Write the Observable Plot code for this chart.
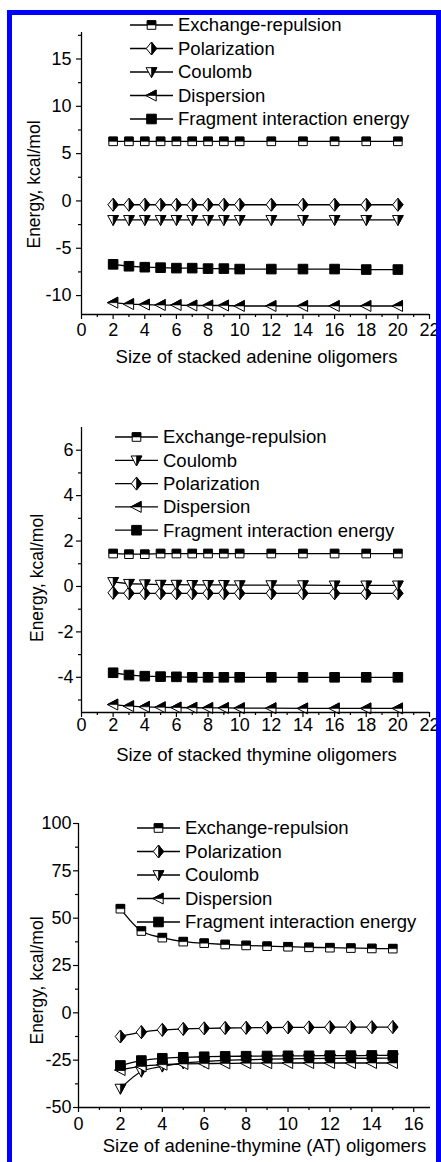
<!DOCTYPE html>
<html><head><meta charset="utf-8">
<script src="https://cdn.jsdelivr.net/npm/d3@7"></script>
<script src="https://cdn.jsdelivr.net/npm/@observablehq/plot@0.6"></script>
<style>
html,body{margin:0;padding:0;width:441px;height:1162px;overflow:hidden;background:#fff;}
#wrap{position:relative;width:441px;height:1162px;overflow:hidden;}
.panel{position:absolute;left:0;}
#border{position:absolute;left:7px;top:10px;width:434px;height:1200px;border:5px solid #0000fe;box-sizing:border-box;pointer-events:none;z-index:5;}
</style></head><body>
<div id="wrap"><div id="border"></div></div>
<script>
const FONT = "'Liberation Sans', Arial, Helvetica, sans-serif";

// ---------- Data ----------
const seriesNames = ["Exchange-repulsion", "Polarization", "Coulomb", "Dispersion", "Fragment interaction energy"];
const legendOrderA = ["Exchange-repulsion", "Polarization", "Coulomb", "Dispersion", "Fragment interaction energy"];
const legendOrderT = ["Exchange-repulsion", "Coulomb", "Polarization", "Dispersion", "Fragment interaction energy"];

// Panel 1: stacked adenine
const adenineSizes = [2, 3, 4, 5, 6, 7, 8, 9, 10, 12, 14, 16, 18, 20];
const adenineExchange = [6.3, 6.3, 6.3, 6.3, 6.3, 6.3, 6.3, 6.3, 6.3, 6.3, 6.3, 6.3, 6.3, 6.3];
const adeninePolarization = [-0.4, -0.4, -0.4, -0.4, -0.4, -0.4, -0.4, -0.4, -0.4, -0.4, -0.4, -0.4, -0.4, -0.4];
const adenineCoulomb = [-2.0, -2.0, -2.0, -2.0, -2.0, -2.0, -2.0, -2.0, -2.0, -2.0, -2.0, -2.0, -2.0, -2.0];
const adenineDispersion = [-10.75, -10.9, -10.95, -11.0, -11.0, -11.05, -11.05, -11.05, -11.1, -11.1, -11.1, -11.1, -11.1, -11.1];
const adenineFragment = [-6.7, -6.9, -7.0, -7.05, -7.1, -7.1, -7.15, -7.15, -7.2, -7.2, -7.2, -7.2, -7.25, -7.25];

// Panel 2: stacked thymine
const thymineSizes = [2, 3, 4, 5, 6, 7, 8, 9, 10, 12, 14, 16, 18, 20];
const thymineExchange = [1.45, 1.42, 1.42, 1.45, 1.45, 1.45, 1.45, 1.45, 1.45, 1.45, 1.45, 1.45, 1.45, 1.45];
const thymineCoulomb = [0.2, 0.12, 0.1, 0.08, 0.08, 0.07, 0.07, 0.07, 0.06, 0.06, 0.06, 0.05, 0.05, 0.05];
const thyminePolarization = [-0.28, -0.3, -0.3, -0.3, -0.3, -0.3, -0.3, -0.3, -0.3, -0.3, -0.3, -0.3, -0.3, -0.3];
const thymineDispersion = [-5.2, -5.27, -5.3, -5.32, -5.33, -5.34, -5.35, -5.35, -5.36, -5.36, -5.37, -5.37, -5.37, -5.37];
const thymineFragment = [-3.8, -3.9, -3.95, -3.97, -3.98, -4.0, -4.0, -4.0, -4.0, -4.0, -4.0, -4.0, -4.0, -4.0];

// Panel 3: adenine-thymine (AT)
const atSizes = [2, 3, 4, 5, 6, 7, 8, 9, 10, 11, 12, 13, 14, 15];
const atExchange = [55.0, 43.2, 39.7, 37.6, 36.8, 36.1, 35.6, 35.2, 34.9, 34.6, 34.4, 34.2, 34.0, 33.9];
const atPolarization = [-12.5, -10.2, -9.0, -8.5, -8.2, -8.0, -7.9, -7.8, -7.7, -7.7, -7.6, -7.6, -7.6, -7.5];
const atCoulomb = [-40.0, -31.0, -28.3, -26.6, -25.7, -25.1, -24.8, -24.5, -24.3, -24.2, -24.1, -24.0, -24.0, -23.9];
const atDispersion = [-30.2, -28.3, -27.4, -27.0, -26.8, -26.7, -26.6, -26.6, -26.5, -26.5, -26.5, -26.5, -26.5, -26.5];
const atFragment = [-27.8, -25.2, -24.0, -23.5, -23.2, -23.0, -22.9, -22.8, -22.7, -22.7, -22.6, -22.6, -22.5, -22.5];

// Tick labels
const xTicksStacked = [0, 2, 4, 6, 8, 10, 12, 14, 16, 18, 20, 22];
const xMinorStacked = [1, 3, 5, 7, 9, 11, 13, 15, 17, 19, 21];
const yTicksAdenine = [-10, -5, 0, 5, 10, 15];
const yMinorAdenine = [-7.5, -2.5, 2.5, 7.5, 12.5, 17.5];
const yTicksThymine = [-4, -2, 0, 2, 4, 6];
const yMinorThymine = [-5, -3, -1, 1, 3, 5];
const xTicksAT = [0, 2, 4, 6, 8, 10, 12, 14, 16];
const xMinorAT = [1, 3, 5, 7, 9, 11, 13, 15];
const yTicksAT = [-50, -25, 0, 25, 50, 75, 100];
const yMinorAT = [-37.5, -12.5, 12.5, 37.5, 62.5, 87.5];

// ---------- Symbols (Origin-style half-filled markers) ----------
const rr = (size) => Math.sqrt(size / Math.PI);
const symSquare = {draw(c, s) { const r = rr(s); c.moveTo(-r, -r); c.lineTo(r, -r); c.lineTo(r, r); c.lineTo(-r, r); c.closePath(); }};
const symSquareTop = {draw(c, s) { const r = rr(s); c.moveTo(-r, -r); c.lineTo(r, -r); c.lineTo(r, 0); c.lineTo(-r, 0); c.closePath(); }};
const symDiamond = {draw(c, s) { const r = rr(s), h = r * 1.25; c.moveTo(0, -h); c.lineTo(r, 0); c.lineTo(0, h); c.lineTo(-r, 0); c.closePath(); }};
const symDiamondRight = {draw(c, s) { const r = rr(s), h = r * 1.25; c.moveTo(0, -h); c.lineTo(r, 0); c.lineTo(0, h); c.closePath(); }};
const symTriDown = {draw(c, s) { const r = rr(s); c.moveTo(-r, -0.8 * r); c.lineTo(r, -0.8 * r); c.lineTo(0, 1.05 * r); c.closePath(); }};
const symTriDownRight = {draw(c, s) { const r = rr(s); c.moveTo(0, -0.8 * r); c.lineTo(r, -0.8 * r); c.lineTo(0, 1.05 * r); c.closePath(); }};
const symTriLeft = {draw(c, s) { const r = rr(s); c.moveTo(-1.05 * r, 0); c.lineTo(0.85 * r, -r); c.lineTo(0.85 * r, r); c.closePath(); }};
const symTriLeftTop = {draw(c, s) { const r = rr(s); c.moveTo(-1.05 * r, 0); c.lineTo(0.85 * r, -r); c.lineTo(0.85 * r, 0); c.closePath(); }};

const markerStyle = {
  "Exchange-repulsion": {full: symSquare, fill: "white", half: symSquareTop, r: 4.3},
  "Polarization": {full: symDiamond, fill: "white", half: symDiamondRight, r: 5.2},
  "Coulomb": {full: symTriDown, fill: "white", half: symTriDownRight, r: 5.4},
  "Dispersion": {full: symTriLeft, fill: "white", half: symTriLeftTop, r: 5.5},
  "Fragment interaction energy": {full: symSquare, fill: "black", half: null, r: 4.8}
};

function tidy(sizes, seriesMap) {
  const rows = [];
  for (const [name, vals] of Object.entries(seriesMap)) {
    sizes.forEach((s, i) => rows.push({series: name, size: s, energy: vals[i]}));
  }
  return rows;
}

function makePanel(cfg) {
  const marks = [];
  marks.push(Plot.line(cfg.rows, {x: "size", y: "energy", z: "series", stroke: "black", strokeWidth: 1.3, curve: cfg.curve || "linear"}));
  for (const name of seriesNames) {
    const st = markerStyle[name];
    const sub = cfg.rows.filter(d => d.series === name);
    marks.push(Plot.dot(sub, {x: "size", y: "energy", symbol: st.full, r: st.r, fill: st.fill, stroke: "black", strokeWidth: 1}));
    if (st.half) marks.push(Plot.dot(sub, {x: "size", y: "energy", symbol: st.half, r: st.r, fill: "black", stroke: "black", strokeWidth: 0.6}));
  }
  marks.push(
    Plot.ruleX([cfg.xDomain[0]], {stroke: "black", strokeWidth: 1.3}),
    Plot.ruleY([cfg.yDomain[0]], {stroke: "black", strokeWidth: 1.3}),
    Plot.axisX({ticks: cfg.xTicks, tickSize: 5, tickPadding: cfg.xPad, tickFormat: d => `${d}`, fontSize: 18, label: null, strokeWidth: 1.2}),
    Plot.axisX({ticks: cfg.xMinor, tickSize: 3, tickFormat: () => "", label: null, strokeWidth: 1.2}),
    Plot.axisY({ticks: cfg.yTicks, tickSize: 5, tickPadding: cfg.yPad, tickFormat: d => `${d}`, fontSize: 18, label: null, strokeWidth: 1.2}),
    Plot.axisY({ticks: cfg.yMinor, tickSize: 3, tickFormat: () => "", label: null, strokeWidth: 1.2}),
    Plot.text([cfg.xLabel], {text: d => d, frameAnchor: "bottom", textAnchor: "middle", lineAnchor: "middle", dx: cfg.xLabelDx, dy: cfg.xLabelDy, fontSize: 18.5, fill: "black"}),
    Plot.text(["Energy, kcal/mol"], {text: d => d, frameAnchor: "left", textAnchor: "middle", lineAnchor: "middle", rotate: -90, dx: cfg.yLabelDx, dy: cfg.yLabelDy, fontSize: 17.5, fill: "black"})
  );
  const svg = Plot.plot({
    width: 441, height: cfg.height,
    marginLeft: cfg.ml, marginRight: cfg.mr, marginTop: cfg.mt, marginBottom: cfg.mb,
    x: {domain: cfg.xDomain},
    y: {domain: cfg.yDomain},
    style: {background: "transparent", color: "black", fontFamily: FONT, fontSize: "18px", overflow: "visible"},
    marks
  });
  // legend
  const g = d3.select(svg).append("g").attr("text-anchor", "start");
  cfg.legendOrder.forEach((name, i) => {
    const st = markerStyle[name];
    const y = cfg.lgY + i * cfg.lgDy;
    const cx = (cfg.lgX0 + cfg.lgX1) / 2;
    g.append("line").attr("x1", cfg.lgX0).attr("x2", cfg.lgX1).attr("y1", y).attr("y2", y).attr("stroke", "black").attr("stroke-width", 1.3);
    g.append("path").attr("transform", `translate(${cx},${y})`).attr("d", d3.symbol(st.full, st.r * st.r * Math.PI)()).attr("fill", st.fill).attr("stroke", "black");
    if (st.half) g.append("path").attr("transform", `translate(${cx},${y})`).attr("d", d3.symbol(st.half, st.r * st.r * Math.PI)()).attr("fill", "black").attr("stroke", "black").attr("stroke-width", 0.6);
    g.append("text").attr("x", cfg.lgX1 + 5).attr("y", y).attr("dy", "0.35em").attr("text-anchor", "start").attr("font-size", 18.5).attr("font-family", FONT).attr("fill", "black").text(name);
  });
  svg.classList.add("panel");
  svg.style.top = cfg.top + "px";
  svg.style.position = "absolute";
  svg.style.left = "0px";
  document.getElementById("wrap").appendChild(svg);
}

makePanel({
  top: 0, height: 390, ml: 81, mr: 12, mt: 32, mb: 76,
  xDomain: [0, 22], yDomain: [-12, 17.8],
  xTicks: xTicksStacked, xMinor: xMinorStacked, yTicks: yTicksAdenine, yMinor: yMinorAdenine,
  xPad: 4, yPad: 5,
  rows: tidy(adenineSizes, {"Exchange-repulsion": adenineExchange, "Polarization": adeninePolarization, "Coulomb": adenineCoulomb, "Dispersion": adenineDispersion, "Fragment interaction energy": adenineFragment}),
  xLabel: "Size of stacked adenine oligomers", xLabelDx: 1, xLabelDy: 43,
  yLabelDx: -47, yLabelDy: 11,
  legendOrder: legendOrderA, lgX0: 130, lgX1: 173, lgY: 25, lgDy: 23.5
});

makePanel({
  top: 390, height: 390, ml: 81, mr: 12, mt: 37, mb: 68,
  xDomain: [0, 22], yDomain: [-5.55, 7],
  xTicks: xTicksStacked, xMinor: xMinorStacked, yTicks: yTicksThymine, yMinor: yMinorThymine,
  xPad: 1, yPad: 3,
  rows: tidy(thymineSizes, {"Exchange-repulsion": thymineExchange, "Polarization": thyminePolarization, "Coulomb": thymineCoulomb, "Dispersion": thymineDispersion, "Fragment interaction energy": thymineFragment}),
  xLabel: "Size of stacked thymine oligomers", xLabelDx: 1, xLabelDy: 43,
  yLabelDx: -44, yLabelDy: 8,
  legendOrder: legendOrderT, lgX0: 115, lgX1: 158, lgY: 47, lgDy: 23.3
});

makePanel({
  top: 780, height: 382, ml: 78, mr: 11, mt: 43, mb: 55,
  xDomain: [0, 16.8], yDomain: [-50, 100],
  xTicks: xTicksAT, xMinor: xMinorAT, yTicks: yTicksAT, yMinor: yMinorAT,
  xPad: 5, yPad: 2,
  rows: tidy(atSizes, {"Exchange-repulsion": atExchange, "Polarization": atPolarization, "Coulomb": atCoulomb, "Dispersion": atDispersion, "Fragment interaction energy": atFragment}),
  curve: "monotone-x",
  xLabel: "Size of adenine-thymine (AT) oligomers", xLabelDx: 10, xLabelDy: 39,
  yLabelDx: -41, yLabelDy: 15,
  legendOrder: legendOrderA, lgX0: 137, lgX1: 180, lgY: 48, lgDy: 23.5
});
</script>
</body></html>
